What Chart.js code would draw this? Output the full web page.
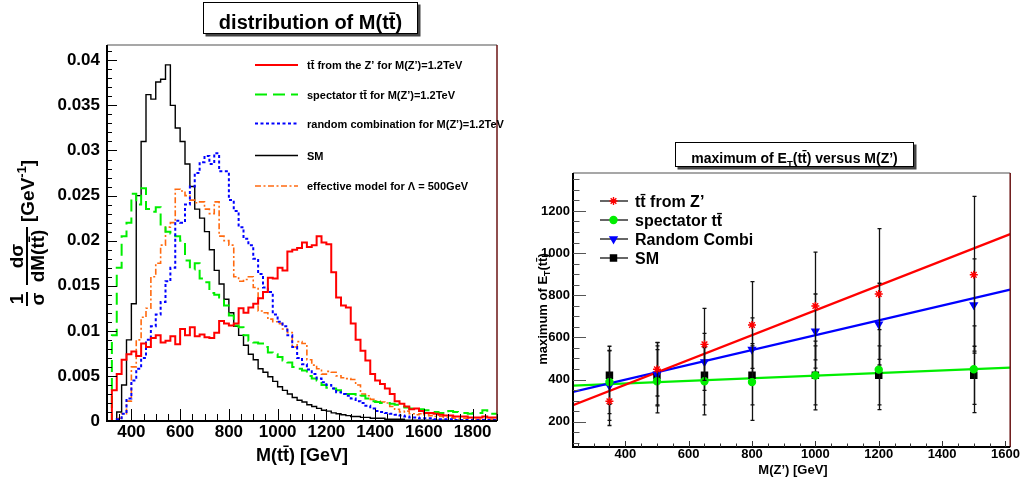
<!DOCTYPE html>
<html>
<head>
<meta charset="utf-8">
<script src="https://cdn.jsdelivr.net/npm/chart.js@4.4.1/dist/chart.umd.min.js"></script>
<style>
  html, body { margin: 0; padding: 0; background: #fff; }
  #wrap { position: relative; width: 1020px; height: 485px; overflow: hidden; }
  canvas { position: absolute; top: 0; }
  #mtt-canvas { left: 0; }
  #et-canvas { left: 510px; }
</style>
</head>
<body>
<div id="wrap">
  <canvas id="mtt-canvas" width="510" height="485"></canvas>
  <canvas id="et-canvas" width="510" height="485"></canvas>
</div>
<script>
// Two ROOT-style panels: M(tt̄) distributions (left), max E_T(tt̄) vs M(Z') (right).

const FONT = '"Liberation Sans", Arial, Helvetica, sans-serif';
const TT = 't' + 't\u0304';

// ---- left panel: 1/σ dσ/dM, 20 GeV bins from 300 to 1900 GeV
const binLow = 300;
const binWidth = 20;

const zPrimeTT = [
  0, 0, 0.0034, 0.0052, 0.0068, 0.0074, 0.0077, 0.0072, 0.0086, 0.0082,
  0.0092, 0.0095, 0.0087, 0.0089, 0.0094, 0.0085, 0.0102, 0.0095, 0.0104, 0.0094,
  0.0096, 0.0093, 0.0092, 0.0098, 0.0111, 0.0108, 0.0106, 0.0108, 0.0125, 0.012,
  0.0126, 0.013, 0.0136, 0.0143, 0.0159, 0.0158, 0.017, 0.0167, 0.0188, 0.019,
  0.0192, 0.0198, 0.0193, 0.0195, 0.0205, 0.0198, 0.0196, 0.0165, 0.0137, 0.0128,
  0.0126, 0.0108, 0.009, 0.0078, 0.0067, 0.0052, 0.0045, 0.0041, 0.0036, 0.003,
  0.0022, 0.0019, 0.0016, 0.0013, 0.0014, 0.0011, 0.0009, 0.0009, 0.0008, 0.0007,
  0.0006, 0.0006, 0.0005, 0.0005, 0.0005, 0.0004, 0.0004, 0.0004, 0.0005, 0.0004,
];
const spectatorTT = [
  0, 0, 0.0095, 0.017, 0.0205, 0.022, 0.0252, 0.024, 0.0258, 0.0235,
  0.0232, 0.0237, 0.0218, 0.021, 0.0208, 0.0205, 0.02, 0.0178, 0.0168, 0.0175,
  0.0158, 0.0154, 0.0142, 0.014, 0.0137, 0.0128, 0.0117, 0.0106, 0.0104, 0.0095,
  0.0089, 0.0087, 0.0086, 0.0082, 0.0076, 0.0074, 0.0071, 0.0067, 0.0065, 0.006,
  0.0058, 0.0056, 0.005, 0.0047, 0.0045, 0.004, 0.0037, 0.0036, 0.0034, 0.0031,
  0.003, 0.003, 0.0027, 0.0028, 0.0025, 0.0022, 0.0021, 0.002, 0.002, 0.0019,
  0.0018, 0.0016, 0.0015, 0.0014, 0.0014, 0.0013, 0.0012, 0.0012, 0.001, 0.0009,
  0.0008, 0.0011, 0.001, 0.0009, 0.0009, 0.0008, 0.0009, 0.0009, 0.0012, 0.0008,
];
const randomComb = [
  0, 0, 0, 0.0002, 0.0008, 0.0025, 0.0045, 0.0058, 0.007, 0.009,
  0.0105, 0.0118, 0.0132, 0.0155, 0.017, 0.0222, 0.022, 0.024, 0.026, 0.0275,
  0.0287, 0.0294, 0.0285, 0.0297, 0.0277, 0.0277, 0.0245, 0.0233, 0.0215, 0.0202,
  0.0195, 0.018, 0.0163, 0.0148, 0.0143, 0.0118, 0.011, 0.0105, 0.0095, 0.0082,
  0.007, 0.0063, 0.0057, 0.0052, 0.0047, 0.0043, 0.004, 0.0036, 0.0032, 0.003,
  0.0028, 0.0025, 0.0022, 0.002, 0.0017, 0.0014, 0.0011, 0.001, 0.0009, 0.0008,
  0.0007, 0.0006, 0.0005, 0.0004, 0.0004, 0.0003, 0.0003, 0.0003, 0.0002, 0.0002,
  0.0002, 0.0002, 0.0001, 0.0001, 0.0001, 0.0001, 0.0001, 0.0001, 0.0001, 0.0001,
];
const smTT = [
  0, 0, 0, 0.001, 0.004, 0.009, 0.013, 0.025, 0.031, 0.0362,
  0.0357, 0.0376, 0.0379, 0.0395, 0.035, 0.0325, 0.031, 0.0285, 0.026, 0.0235,
  0.0225, 0.021, 0.019, 0.0167, 0.0152, 0.0135, 0.012, 0.0105, 0.0095, 0.0084,
  0.0074, 0.0068, 0.0058, 0.0054, 0.0049, 0.0044, 0.0038, 0.0034, 0.003, 0.0026,
  0.0023, 0.0021, 0.0018, 0.0016, 0.0014, 0.0012, 0.0011, 0.0009, 0.0008, 0.0007,
  0.0006, 0.0005, 0.0005, 0.0004, 0.0004, 0.0003, 0.0003, 0.0003, 0.0002, 0.0002,
  0.0002, 0.0002, 0.0001, 0.0001, 0.0001, 0.0001, 0.0001, 0.0001, 0.0001, 0.0001,
  0.0001, 0, 0, 0.0001, 0, 0, 0, 0, 0, 0,
];
const effModel = [
  0, 0, 0, 0.0003, 0.0008, 0.0022, 0.006, 0.009, 0.0115, 0.0125,
  0.016, 0.0175, 0.0195, 0.0215, 0.022, 0.0257, 0.0255, 0.025, 0.0245, 0.0242,
  0.0243, 0.0235, 0.023, 0.0243, 0.0205, 0.02, 0.0195, 0.016, 0.0155, 0.0157,
  0.016, 0.0148, 0.0122, 0.012, 0.0113, 0.011, 0.0108, 0.0102, 0.0098, 0.0082,
  0.0088, 0.0086, 0.0068, 0.0062, 0.0058, 0.0052, 0.0055, 0.0054, 0.005, 0.0048,
  0.0047, 0.0046, 0.004, 0.003, 0.0028, 0.0024, 0.0022, 0.0021, 0.002, 0.0016,
  0.0013, 0.001, 0.0011, 0.0008, 0.0007, 0.0008, 0.0007, 0.0006, 0.0005, 0.0005,
  0.0004, 0.0004, 0.0003, 0.0003, 0.0003, 0.0003, 0.0002, 0.0002, 0.0002, 0.0002,
];

const massTicks = [400, 600, 800, 1000, 1200, 1400, 1600, 1800];
const densityTicks = [0, 0.005, 0.01, 0.015, 0.02, 0.025, 0.03, 0.035, 0.04];

const histLabels = [
  TT + ' from the Z\u2019 for M(Z\u2019)=1.2TeV',
  'spectator ' + TT + ' for M(Z\u2019)=1.2TeV',
  'random combination for M(Z\u2019)=1.2TeV',
  'SM',
  'effective model for \u039B = 500GeV',
];

// ---- right panel: maximum of E_T(tt̄) per Z' mass
const zMass = [350, 500, 650, 800, 1000, 1200, 1500];
const etZprime = [297, 449, 567, 659, 749, 806, 897];
const etZprimeErr = [115, 127, 171, 206, 256, 310, 372];
const etSpectator = [388, 392, 392, 388, 419, 447, 449];
const etSpectatorErr = [150, 150, 160, 182, 163, 190, 206];
const etRandom = [371, 425, 484, 543, 630, 663, 754];
const etRandomErr = [165, 150, 135, 150, 176, 194, 219];
const etSM = [420, 420, 420, 420, 420, 420, 420];
const etSMErr = [138, 140, 140, 140, 140, 140, 138];

// straight-line fits, read at both frame edges
const fitX = [235, 1615];
const fitZprime = [278, 1090];
const fitRandom = [341, 827];
const fitSpectator = [371, 457];

const zMassTicks = [400, 600, 800, 1000, 1200, 1400, 1600];
const etTicks = [200, 400, 600, 800, 1000, 1200];

const etLabels = [TT + ' from Z\u2019', 'spectator ' + TT, 'Random Combi', 'SM'];

// ---------------------------------------------------------------- helpers

function histPoints(values) {
  const pts = values.map((v, i) => ({ x: binLow + i * binWidth, y: v }));
  pts.push({ x: binLow + values.length * binWidth, y: values[values.length - 1] });
  return pts;
}

function bold(size) {
  return `bold ${size}px ${FONT}`;
}

function line(ctx, x1, y1, x2, y2) {
  ctx.beginPath();
  ctx.moveTo(x1, y1);
  ctx.lineTo(x2, y2);
  ctx.stroke();
}

// inward ROOT ticks
function axisTicks(ctx, scale, area, horizontal, majors, step, majorLen, minorLen, color) {
  ctx.save();
  ctx.strokeStyle = color;
  ctx.lineWidth = 1;
  ctx.beginPath();
  const first = Math.ceil(scale.min / step - 1e-6);
  for (let k = first; k * step <= scale.max + step * 1e-6; k++) {
    const v = k * step;
    const major = majors.some((m) => Math.abs(m - v) < step / 10);
    const len = major ? majorLen : minorLen;
    const p = Math.round(scale.getPixelForValue(v)) + 0.5;
    if (horizontal) {
      ctx.moveTo(p, area.bottom);
      ctx.lineTo(p, area.bottom - len);
    } else {
      ctx.moveTo(area.left, p);
      ctx.lineTo(area.left + len, p);
    }
  }
  ctx.stroke();
  ctx.restore();
}

function frame(ctx, a) {
  ctx.save();
  ctx.lineWidth = 1.5;
  ctx.strokeStyle = '#8a8a8a';
  line(ctx, a.left, a.top, a.right, a.top);
  ctx.strokeStyle = '#6b1414';
  line(ctx, a.right, a.top, a.right, a.bottom);
  ctx.lineWidth = 2;
  ctx.strokeStyle = '#000';
  line(ctx, a.left, a.top, a.left, a.bottom + 1);
  line(ctx, a.left, a.bottom, a.right, a.bottom);
  ctx.restore();
}

function titleBox(ctx, x, y, w, h) {
  ctx.save();
  ctx.fillStyle = '#444';
  ctx.fillRect(x + 2.5, y + 2.5, w, h);
  ctx.fillStyle = '#fff';
  ctx.fillRect(x, y, w, h);
  ctx.strokeStyle = '#000';
  ctx.lineWidth = 1;
  ctx.strokeRect(x + 0.5, y + 0.5, w - 1, h - 1);
  ctx.restore();
}

// text runs with sub/superscripts: [{t, sub|sup}]
function richWidth(ctx, parts, size) {
  let w = 0;
  parts.forEach((p) => {
    ctx.font = bold(p.sub || p.sup ? size * 0.68 : size);
    w += ctx.measureText(p.t).width;
  });
  return w;
}

function drawRich(ctx, parts, x, y, size, align) {
  const w = richWidth(ctx, parts, size);
  let cx = align === 'center' ? x - w / 2 : x;
  ctx.textAlign = 'left';
  ctx.textBaseline = 'alphabetic';
  parts.forEach((p) => {
    const s = p.sub || p.sup ? size * 0.68 : size;
    ctx.font = bold(s);
    const dy = p.sub ? size * 0.3 : p.sup ? -size * 0.42 : 0;
    ctx.fillText(p.t, cx, y + dy);
    cx += ctx.measureText(p.t).width;
  });
}

function fraction(ctx, num, den, x0, w) {
  ctx.lineWidth = 2;
  line(ctx, x0, 0, x0 + w, 0);
  ctx.textAlign = 'center';
  ctx.textBaseline = 'alphabetic';
  ctx.fillText(num, x0 + w / 2, -4);
  ctx.fillText(den, x0 + w / 2, 17);
}

// ---------------------------------------------------------------- left panel

const histStyles = [
  { data: zPrimeTT, color: '#ff0000', width: 2, dash: [], order: 1 },
  { data: spectatorTT, color: '#00ee00', width: 2, dash: [12, 6], order: 3 },
  { data: randomComb, color: '#0000ff', width: 2, dash: [3, 2.5], order: 2 },
  { data: smTT, color: '#000000', width: 1.4, dash: [], order: 5 },
  { data: effModel, color: '#ff6a10', width: 1.6, dash: [6, 2.5, 2, 2.5], order: 4 },
];

const mttDecor = {
  id: 'mttDecor',
  afterDraw(chart) {
    const { ctx, chartArea: a, scales } = chart;
    frame(ctx, a);
    axisTicks(ctx, scales.y, a, false, densityTicks, 0.001, 10, 5, '#000');
    axisTicks(ctx, scales.x, a, true, massTicks, 50, 12, 7, '#000');

    ctx.save();
    ctx.fillStyle = '#000';
    ctx.strokeStyle = '#000';

    titleBox(ctx, 203, 2, 215, 32);
    ctx.font = bold(20);
    ctx.textAlign = 'center';
    ctx.textBaseline = 'alphabetic';
    ctx.fillText('distribution of M(' + TT + ')', 310.5, 29);

    // legend (no border, ROOT style)
    const rows = [65, 94.5, 123.5, 155.5, 186];
    histStyles.forEach((s, i) => {
      ctx.save();
      ctx.strokeStyle = s.color;
      ctx.lineWidth = s.width;
      ctx.setLineDash(s.dash);
      line(ctx, 255, rows[i], 298, rows[i]);
      ctx.restore();
      ctx.font = bold(11);
      ctx.textAlign = 'left';
      ctx.fillText(histLabels[i], 307, rows[i] + 4);
    });

    // x title
    ctx.font = bold(18);
    ctx.textAlign = 'center';
    ctx.fillText('M(' + TT + ') [GeV]', 302, 461);

    // y title: 1/σ dσ/dM(tt̄) [GeV^-1], rotated
    ctx.save();
    ctx.translate(27, 306);
    ctx.rotate(-Math.PI / 2);
    ctx.font = bold(19);
    fraction(ctx, '1', '\u03C3', 0, 14);
    ctx.font = bold(19);
    fraction(ctx, 'd\u03C3', 'dM(' + TT + ')', 21, 58);
    drawRich(ctx, [{ t: '[GeV' }, { t: '-1', sup: true }, { t: ']' }], 84, 7, 19, 'left');
    ctx.restore();

    ctx.restore();
  },
};

new Chart(document.getElementById('mtt-canvas'), {
  type: 'line',
  data: {
    datasets: histStyles.map((s, i) => ({
      label: histLabels[i],
      data: histPoints(s.data),
      borderColor: s.color,
      borderWidth: s.width,
      borderDash: s.dash,
      stepped: 'after',
      pointRadius: 0,
      fill: false,
      order: s.order,
    })),
  },
  options: {
    responsive: false,
    animation: false,
    layout: { padding: { top: 45, right: 13, left: 0, bottom: 0 } },
    plugins: { legend: { display: false }, tooltip: { enabled: false } },
    scales: {
      x: {
        type: 'linear',
        min: 300,
        max: 1900,
        afterBuildTicks: (s) => { s.ticks = massTicks.map((v) => ({ value: v })); },
        afterFit: (s) => { s.height = 64; },
        grid: { display: false, drawTicks: false },
        border: { display: false },
        ticks: { autoSkip: false, maxRotation: 0, padding: 1, color: '#000',
          font: { family: FONT, size: 17, weight: 'bold' }, callback: (v) => String(v) },
      },
      y: {
        type: 'linear',
        min: 0,
        max: 0.0417,
        afterBuildTicks: (s) => { s.ticks = densityTicks.map((v) => ({ value: v })); },
        afterFit: (s) => { s.width = 107; },
        grid: { display: false, drawTicks: false },
        border: { display: false },
        ticks: { padding: 7, color: '#000',
          font: { family: FONT, size: 17, weight: 'bold' }, callback: (v) => String(v) },
      },
    },
  },
  plugins: [mttDecor],
});

// ---------------------------------------------------------------- right panel

const markerSets = [
  { y: etZprime, err: etZprimeErr, color: '#ff0000', style: 'star', radius: 4, rot: 0, order: 1 },
  { y: etSpectator, err: etSpectatorErr, color: '#00ee00', style: 'circle', radius: 3.5, rot: 0, order: 2 },
  { y: etRandom, err: etRandomErr, color: '#0000ff', style: 'triangle', radius: 4, rot: 180, order: 3 },
  { y: etSM, err: etSMErr, color: '#000000', style: 'rect', radius: 4.3, rot: 0, order: 4 },
];

const fitSets = [
  { y: fitZprime, color: '#ff0000' },
  { y: fitRandom, color: '#0000ff' },
  { y: fitSpectator, color: '#00ee00' },
];

const errorBars = {
  id: 'errorBars',
  beforeDatasetDraw(chart, args) {
    const ds = chart.data.datasets[args.index];
    if (!ds.errors) return;
    const { ctx, chartArea: a } = chart;
    const xs = chart.scales.x;
    const ys = chart.scales.y;
    ctx.save();
    ctx.beginPath();
    ctx.rect(a.left, a.top, a.right - a.left, a.bottom - a.top);
    ctx.clip();
    ctx.strokeStyle = '#111';
    ctx.lineWidth = 1.3;
    ds.data.forEach((p, i) => {
      const px = Math.round(xs.getPixelForValue(p.x)) + 0.5;
      const top = ys.getPixelForValue(p.y + ds.errors[i]);
      const bot = ys.getPixelForValue(p.y - ds.errors[i]);
      ctx.beginPath();
      ctx.moveTo(px, top);
      ctx.lineTo(px, bot);
      ctx.moveTo(px - 2, top);
      ctx.lineTo(px + 2, top);
      ctx.moveTo(px - 2, bot);
      ctx.lineTo(px + 2, bot);
      ctx.stroke();
    });
    ctx.restore();
  },
};

const etDecor = {
  id: 'etDecor',
  afterDraw(chart) {
    const { ctx, chartArea: a, scales } = chart;
    frame(ctx, a);
    axisTicks(ctx, scales.y, a, false, etTicks, 50, 13, 6.5, '#555');
    axisTicks(ctx, scales.x, a, true, zMassTicks, 50, 6, 3.5, '#333');

    ctx.save();
    ctx.fillStyle = '#000';

    titleBox(ctx, 165, 142, 239, 25);
    drawRich(ctx, [{ t: 'maximum of E' }, { t: 'T', sub: true }, { t: '(' + TT + ') versus M(Z\u2019)' }],
      284.5, 162.5, 14, 'center');

    // legend
    const rows = [201, 220, 239, 258];
    markerSets.forEach((m, i) => {
      ctx.save();
      ctx.strokeStyle = '#333';
      ctx.lineWidth = 1.5;
      line(ctx, 90, rows[i], 118, rows[i]);
      ctx.fillStyle = m.color;
      ctx.strokeStyle = m.color;
      ctx.lineWidth = 1.4;
      Chart.helpers.drawPoint(ctx, { pointStyle: m.style, rotation: m.rot, radius: m.radius, borderWidth: 1.4 }, 103.5, rows[i]);
      ctx.restore();
      ctx.font = bold(16);
      ctx.textAlign = 'left';
      ctx.textBaseline = 'alphabetic';
      ctx.fillText(etLabels[i], 125, rows[i] + 6);
    });

    // x title
    ctx.font = bold(13);
    ctx.textAlign = 'center';
    ctx.fillText('M(Z\u2019) [GeV]', 283, 474);

    // y title, rotated
    ctx.save();
    ctx.translate(32, 309);
    ctx.rotate(-Math.PI / 2);
    drawRich(ctx, [{ t: 'maximum of E' }, { t: 'T', sub: true }, { t: '(' + TT + ')' }], 0, 4.5, 13, 'center');
    ctx.restore();

    ctx.restore();
  },
};

new Chart(document.getElementById('et-canvas'), {
  type: 'scatter',
  data: {
    datasets: [
      ...markerSets.map((m, i) => ({
        label: etLabels[i],
        data: zMass.map((x, j) => ({ x, y: m.y[j] })),
        errors: m.err,
        pointStyle: m.style,
        rotation: m.rot,
        pointRadius: m.radius,
        pointBorderWidth: 1.4,
        pointBackgroundColor: m.color,
        pointBorderColor: m.color,
        showLine: false,
        order: m.order,
      })),
      ...fitSets.map((f) => ({
        data: fitX.map((x, j) => ({ x, y: f.y[j] })),
        showLine: true,
        borderColor: f.color,
        borderWidth: 2.2,
        pointRadius: 0,
        fill: false,
        order: 10,
      })),
    ],
  },
  options: {
    responsive: false,
    animation: false,
    layout: { padding: { top: 173, right: 8, left: 0, bottom: 0 } },
    plugins: { legend: { display: false }, tooltip: { enabled: false } },
    scales: {
      x: {
        type: 'linear',
        min: 235,
        max: 1615,
        afterBuildTicks: (s) => { s.ticks = zMassTicks.map((v) => ({ value: v })); },
        afterFit: (s) => { s.height = 38; },
        grid: { display: false, drawTicks: false },
        border: { display: false },
        ticks: { autoSkip: false, maxRotation: 0, padding: 0, color: '#000',
          font: { family: FONT, size: 13, weight: 'bold' }, callback: (v) => String(v) },
      },
      y: {
        type: 'linear',
        min: 80,
        max: 1380,
        afterBuildTicks: (s) => { s.ticks = etTicks.map((v) => ({ value: v })); },
        afterFit: (s) => { s.width = 63; },
        grid: { display: false, drawTicks: false },
        border: { display: false },
        ticks: { padding: 3, color: '#000',
          font: { family: FONT, size: 13, weight: 'bold' }, callback: (v) => String(v) },
      },
    },
  },
  plugins: [errorBars, etDecor],
});
</script>
</body>
</html>
